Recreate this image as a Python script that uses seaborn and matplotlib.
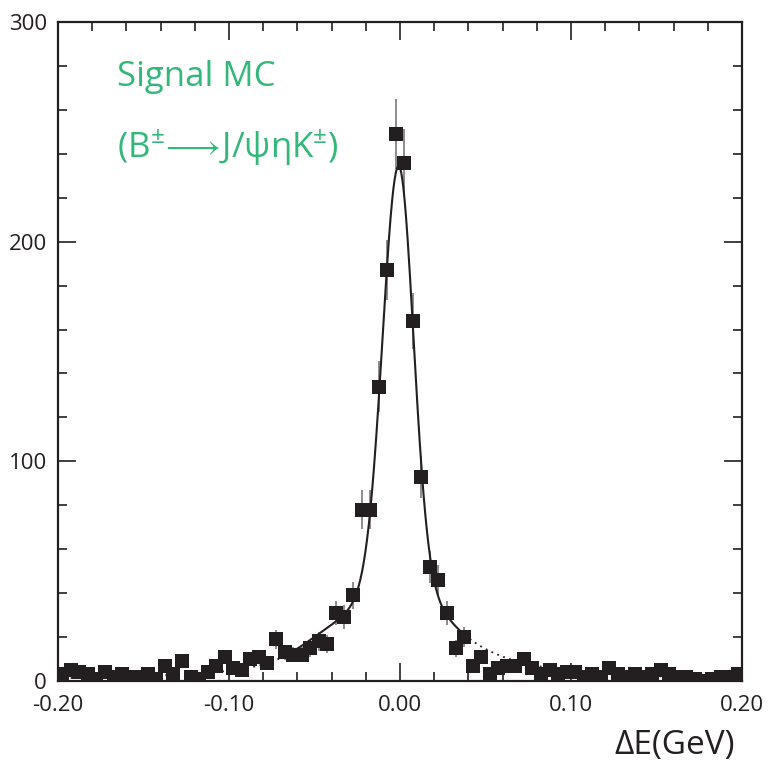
import numpy as np
import pandas as pd
import matplotlib
matplotlib.use("Agg")
import matplotlib.pyplot as plt
from matplotlib.ticker import MultipleLocator
import seaborn as sns

# bin centres (GeV) and counts
de_bins = np.arange(-0.1975, 0.2, 0.005)
counts = [3, 5, 4, 3, 1, 4, 2, 3, 2, 2,
          3, 1, 7, 3, 9, 2, 1, 4, 7, 11,
          6, 5, 10, 11, 8, 19, 13, 12, 12, 15,
          18, 17, 31, 29, 39, 78, 78, 134, 187, 249,
          236, 164, 93, 52, 46, 31, 15, 20, 7, 11,
          3, 6, 7, 7, 10, 6, 3, 5, 3, 4,
          4, 2, 3, 2, 6, 3, 2, 3, 2, 3,
          5, 3, 2, 2, 1, 0, 1, 2, 2, 3]

xtick_vals = [-0.2, -0.1, 0.0, 0.1, 0.2]
xtick_labels = ["-0.20", "-0.10", "0.00", "0.10", "0.20"]
ytick_vals = [0, 100, 200, 300]

# fit shape (core bifurcated gaussian + lorentzian tail + small left tail)
core_amp, core_mu, core_sl, core_sr = 183.0, -0.0008, 0.0092, 0.0085
lor_amp, lor_gamma = 51.0, 0.0317
tail_amp, tail_mu, tail_sig = 6.0, -0.042, 0.018
fit_lo, fit_hi = -0.07, 0.035

df = pd.DataFrame({"dE": de_bins, "n": counts})
df["err"] = np.sqrt(df["n"])


def fit_func(x):
    sig = np.where(x < core_mu, core_sl, core_sr)
    core = core_amp * np.exp(-0.5 * ((x - core_mu) / sig) ** 2)
    lor = lor_amp / (1 + (x / lor_gamma) ** 2)
    tail = tail_amp * np.exp(-0.5 * ((x - tail_mu) / tail_sig) ** 2)
    return core + lor + tail


sns.set_style("ticks")
plt.rcParams["font.family"] = ["Open Sans", "DejaVu Sans"]
plt.rcParams["mathtext.fontset"] = "custom"
plt.rcParams["mathtext.rm"] = "Open Sans"
plt.rcParams["mathtext.it"] = "Open Sans"

fig = plt.figure(figsize=(7.68, 7.64), dpi=100)
ax = fig.add_axes([0.0755, 0.1086, 0.8906, 0.8626])

ink = "#231f20"
ax.vlines(df["dE"], df["n"] - df["err"], df["n"] + df["err"],
          color="#6d6d6d", lw=1.1, zorder=2)

xs = np.linspace(-0.2, 0.2, 1200)
ys = fit_func(xs)
inside = (xs >= fit_lo) & (xs <= fit_hi)
ax.plot(xs[inside], ys[inside], color=ink, lw=1.5, zorder=3)
ax.plot(xs[xs <= fit_lo], ys[xs <= fit_lo], color=ink, lw=1.3, ls=(0, (1, 2.5)), zorder=3)
ax.plot(xs[xs >= fit_hi], ys[xs >= fit_hi], color=ink, lw=1.3, ls=(0, (1, 2.5)), zorder=3)

sns.scatterplot(data=df, x="dE", y="n", marker="s", s=105, color=ink,
                linewidth=0, ax=ax, zorder=4)

ax.set_xlim(-0.2, 0.2)
ax.set_ylim(0, 300)
ax.xaxis.set_minor_locator(MultipleLocator(0.02))
ax.yaxis.set_minor_locator(MultipleLocator(20))
ax.set_xticks(xtick_vals)
ax.set_xticklabels(xtick_labels)
ax.set_yticks(ytick_vals)
ax.set_yticklabels([str(v) for v in ytick_vals])
ax.tick_params(which="both", direction="in", top=True, right=True,
               labelsize=16, colors=ink, width=1.2)
ax.tick_params(which="major", length=13)
ax.tick_params(axis="x", which="major", pad=10)
ax.tick_params(axis="y", which="major", pad=8)
ax.tick_params(which="minor", length=6.5)
for sp in ax.spines.values():
    sp.set_linewidth(1.6)
    sp.set_color(ink)

ax.set_xlabel("")
ax.set_ylabel("")
fig.text(0.957, 0.024, "ΔE(GeV)", ha="right", va="center", fontsize=24, color=ink)

green = "#33b87a"
ax.text(0.087, 0.917, "Signal MC", transform=ax.transAxes, fontsize=25,
        color=green, va="center")
ax.text(0.087, 0.81, r"(B$^{\pm}\!\longrightarrow\!$J/ψηK$^{\pm}$)", transform=ax.transAxes,
        fontsize=25, color=green, va="center")

fig.savefig("out.png", dpi=100)
